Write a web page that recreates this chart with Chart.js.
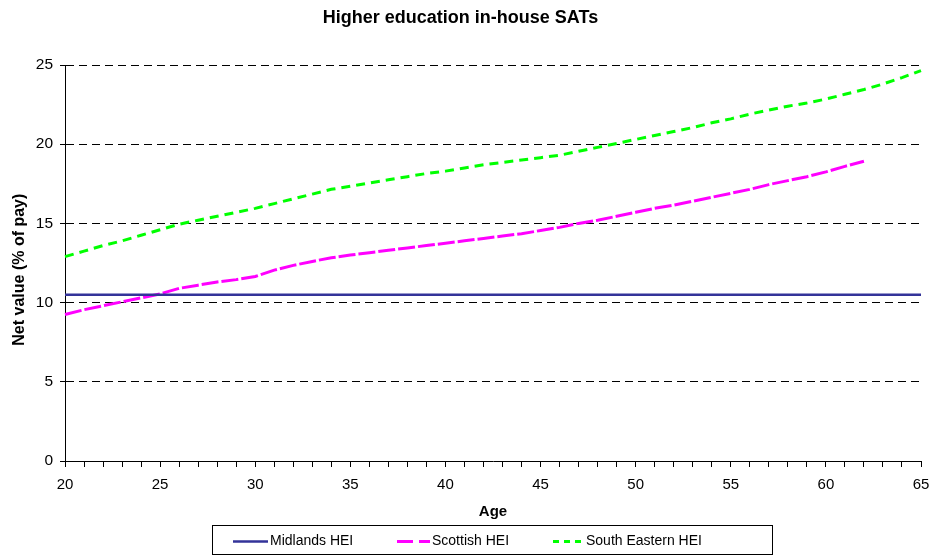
<!DOCTYPE html>
<html>
<head>
<meta charset="utf-8">
<script src="https://cdn.jsdelivr.net/npm/chart.js@4/dist/chart.umd.min.js"></script>
<style>
  html, body { margin: 0; padding: 0; background: #fff; }
  #wrap { width: 941px; height: 555px; }
</style>
</head>
<body>
<div id="wrap"><canvas id="c" width="941" height="555"></canvas></div>
<script>
// Ages on the horizontal axis (one category per year)
const ages = [];
for (let a = 20; a <= 65; a++) ages.push(String(a));

// Net value of the scheme, % of pay, by age
const midlandsHEI = [
  10.5, 10.5, 10.5, 10.5, 10.5, 10.5, 10.5, 10.5, 10.5, 10.5,
  10.5, 10.5, 10.5, 10.5, 10.5, 10.5, 10.5, 10.5, 10.5, 10.5,
  10.5, 10.5, 10.5, 10.5, 10.5, 10.5, 10.5, 10.5, 10.5, 10.5,
  10.5, 10.5, 10.5, 10.5, 10.5, 10.5, 10.5, 10.5, 10.5, 10.5,
  10.5, 10.5, 10.5, 10.5, 10.5, 10.5
];
const scottishHEI = [
  9.25, 9.55, 9.8, 10.05, 10.3, 10.55, 10.9, 11.1, 11.3, 11.45,
  11.65, 12.05, 12.35, 12.6, 12.83, 13.0, 13.15, 13.3, 13.45, 13.6,
  13.75, 13.9, 14.05, 14.2, 14.35, 14.55, 14.75, 15.0, 15.2, 15.45,
  15.7, 15.95, 16.15, 16.4, 16.65, 16.9, 17.15, 17.45, 17.7, 17.95,
  18.25, 18.6, 18.92, null, null, null
];
const southEasternHEI = [
  12.9, 13.25, 13.6, 13.9, 14.25, 14.6, 14.95, 15.2, 15.45, 15.7,
  15.95, 16.25, 16.55, 16.85, 17.15, 17.35, 17.55, 17.75, 17.95, 18.15,
  18.3, 18.5, 18.7, 18.85, 19.0, 19.15, 19.3, 19.55, 19.8, 20.05,
  20.3, 20.55, 20.8, 21.05, 21.35, 21.6, 21.9, 22.15, 22.4, 22.6,
  22.85, 23.15, 23.45, 23.8, 24.2, 24.65
];

const FONT = "Arial, 'Liberation Sans', Helvetica, sans-serif";

// Boxed legend drawn under the axis title
const boxedLegend = {
  id: 'boxedLegend',
  afterDraw(chart) {
    const ctx = chart.ctx;
    const box = { x: 212.5, y: 525.5, w: 560, h: 29 };
    ctx.save();
    ctx.fillStyle = '#fff';
    ctx.fillRect(box.x, box.y, box.w, box.h);
    ctx.strokeStyle = '#000';
    ctx.lineWidth = 1;
    ctx.strokeRect(box.x, box.y, box.w, box.h);
    const cy = 541.5;
    const starts = [233, 397, 553];
    const sampleLen = [35, 33, 31];
    ctx.font = '14px ' + FONT;
    ctx.textBaseline = 'middle';
    ctx.fillStyle = '#000';
    chart.data.datasets.forEach((ds, i) => {
      const x0 = starts[i];
      ctx.beginPath();
      ctx.strokeStyle = ds.borderColor;
      ctx.lineWidth = ds.borderWidth;
      ctx.setLineDash(ds.legendDash || []);
      ctx.moveTo(x0, cy);
      ctx.lineTo(x0 + sampleLen[i], cy);
      ctx.stroke();
      ctx.setLineDash([]);
      ctx.fillText(ds.label, x0 + sampleLen[i] + 2, cy);
    });
    ctx.restore();
  }
};

new Chart(document.getElementById('c'), {
  type: 'line',
  data: {
    labels: ages,
    datasets: [
      {
        label: 'Midlands HEI',
        data: midlandsHEI,
        borderColor: '#333399',
        borderWidth: 2.5,
        pointRadius: 0,
        tension: 0,
        legendDash: []
      },
      {
        label: 'Scottish HEI',
        data: scottishHEI,
        borderColor: '#FF00FF',
        borderWidth: 3,
        borderDash: [17, 3],
        pointRadius: 0,
        tension: 0,
        legendDash: [16, 6]
      },
      {
        label: 'South Eastern HEI',
        data: southEasternHEI,
        borderColor: '#00FF00',
        borderWidth: 3,
        borderDash: [9, 6],
        pointRadius: 0,
        tension: 0,
        legendDash: [6, 5]
      }
    ]
  },
  options: {
    responsive: false,
    animation: false,
    events: [],
    layout: { padding: { left: 0, right: 20, top: 0, bottom: 0 } },
    plugins: {
      legend: { display: false },
      tooltip: { enabled: false },
      title: {
        display: true,
        text: 'Higher education in-house SATs',
        color: '#000',
        font: { family: FONT, size: 18, weight: 'bold' },
        padding: { top: 7.7, bottom: 35.7 }
      }
    },
    scales: {
      x: {
        type: 'category',
        offset: false,
        afterFit(scale) { scale.height = 94; },
        border: { display: true, color: '#000', width: 1 },
        grid: {
          display: true,
          drawOnChartArea: false,
          drawTicks: true,
          tickLength: 6,
          tickColor: '#000',
          color: '#000'
        },
        ticks: {
          autoSkip: false,
          maxRotation: 0,
          minRotation: 0,
          padding: 9,
          color: '#000',
          font: { family: FONT, size: 15 },
          callback(value, index) {
            const age = Number(ages[index]);
            return age % 5 === 0 ? ages[index] : '';
          }
        },
        title: {
          display: true,
          text: 'Age',
          color: '#000',
          font: { family: FONT, size: 15, weight: 'bold' },
          padding: { top: 0, bottom: 34 }
        }
      },
      y: {
        min: 0,
        max: 25,
        afterFit(scale) { scale.width = 65; },
        border: { display: true, color: '#000', width: 1, dash: [8, 5] },
        grid: {
          display: true,
          color: '#000',
          lineWidth: 1,
          drawTicks: true,
          tickLength: 5,
          tickColor: '#000'
        },
        ticks: {
          stepSize: 5,
          padding: 7,
          color: '#000',
          font: { family: FONT, size: 15.5 }
        },
        title: {
          display: true,
          // trailing spaces nudge the rotated title slightly downward
          text: 'Net value (% of pay)   ',
          color: '#000',
          font: { family: FONT, size: 16, weight: 'bold' },
          padding: { top: 10, bottom: 0 }
        }
      }
    }
  },
  plugins: [boxedLegend]
});
</script>
</body>
</html>
